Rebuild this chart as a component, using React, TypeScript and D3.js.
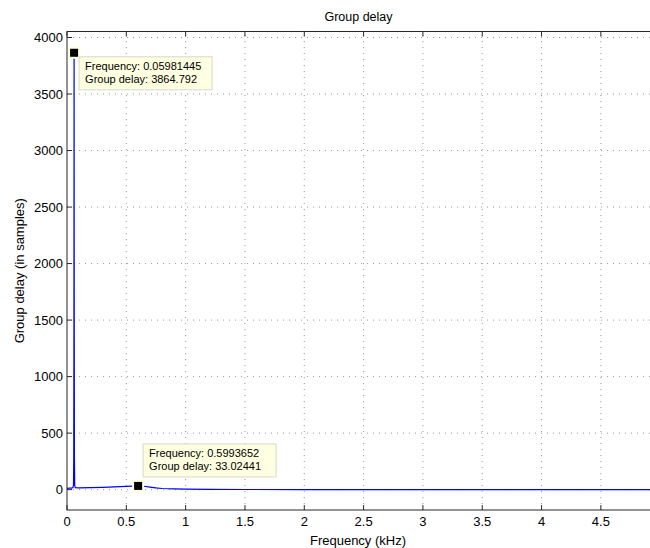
import React, { useEffect, useRef } from "react";
import * as d3 from "d3";

// frequency (kHz) and group delay (samples)
const freqs = [
  0, 0.02, 0.04, 0.05, 0.055, 0.057, 0.0585, 0.05981445, 0.061, 0.0625, 0.065, 0.07,
  0.1, 0.2, 0.3, 0.4, 0.5, 0.55, 0.5993652, 0.65, 0.7, 0.75, 0.8, 0.9, 1.0, 1.2, 1.5,
  2.0, 2.5, 3.0, 3.5, 4.0, 4.5, 4.92,
];
const delays = [
  12, 13, 14, 18, 40, 300, 1500, 3864.792, 1500, 300, 40, 17,
  16, 18, 21, 25, 29, 31.5, 33.02441, 30, 22, 15, 10, 6, 4, 2.5, 1.5,
  1, 0.7, 0.5, 0.4, 0.3, 0.2, 0.2,
];
const xTicks = [0, 0.5, 1, 1.5, 2, 2.5, 3, 3.5, 4, 4.5];
const yTicks = [0, 500, 1000, 1500, 2000, 2500, 3000, 3500, 4000];
const tips = [
  { f: 0.05981445, g: 3864.792, lines: ["Frequency: 0.05981445", "Group delay: 3864.792"], dx: 5, dy: 4 },
  { f: 0.5993652, g: 33.02441, lines: ["Frequency: 0.5993652", "Group delay: 33.02441"], dx: 5, dy: -42 },
];

const W = 650;
const H = 548;
const M = { left: 67, right: 0, top: 31.5, bottom: 38 };
const FONT = "'Liberation Sans', Arial, sans-serif";

export default function App() {
  const ref = useRef<SVGSVGElement>(null);

  useEffect(() => {
    const svg = d3.select(ref.current);
    svg.selectAll("*").remove();

    const x = d3.scaleLinear().domain([0, 4.914]).range([M.left, W - M.right]);
    const y = d3.scaleLinear().domain([-180, 4053]).range([H - M.bottom, M.top]);
    const x0 = M.left, x1 = W - M.right, y0 = H - M.bottom, y1 = M.top;

    svg.append("rect").attr("width", W).attr("height", H).attr("fill", "#fff");

    // dotted grid
    const grid = svg.append("g").attr("stroke", "#8c8c8c").attr("stroke-width", 0.9).attr("stroke-dasharray", "1,5");
    xTicks.forEach((t) => {
      if (t === 0) return;
      grid.append("line").attr("x1", x(t)).attr("x2", x(t)).attr("y1", y0).attr("y2", y1);
    });
    yTicks.forEach((t) => {
      grid.append("line").attr("x1", x0).attr("x2", x1).attr("y1", y(t)).attr("y2", y(t));
    });

    // curve
    const line = d3.line<number>().x((d, i) => x(freqs[i])).y((d) => y(d));
    svg.append("path")
      .datum(delays)
      .attr("d", line)
      .attr("fill", "none")
      .attr("stroke", "#0000ff")
      .attr("stroke-width", 1.2);

    // box and ticks
    const ax = svg.append("g").attr("stroke", "#262626").attr("stroke-width", 1);
    ax.append("rect").attr("x", x0).attr("y", y1).attr("width", x1 - x0 + 2).attr("height", y0 - y1).attr("fill", "none");
    xTicks.forEach((t) => {
      ax.append("line").attr("x1", x(t)).attr("x2", x(t)).attr("y1", y0).attr("y2", y0 - 5);
      ax.append("line").attr("x1", x(t)).attr("x2", x(t)).attr("y1", y1).attr("y2", y1 + 5);
    });
    yTicks.forEach((t) => {
      ax.append("line").attr("x1", x0).attr("x2", x0 + 5).attr("y1", y(t)).attr("y2", y(t));
    });

    const txt = svg.append("g").attr("font-family", FONT).attr("fill", "#000");
    xTicks.forEach((t) => {
      txt.append("text").attr("x", x(t)).attr("y", y0 + 16).attr("text-anchor", "middle")
        .attr("font-size", 13).text(String(t));
    });
    yTicks.forEach((t) => {
      txt.append("text").attr("x", x0 - 4).attr("y", y(t) + 4.5).attr("text-anchor", "end")
        .attr("font-size", 13).text(String(t));
    });
    txt.append("text").attr("x", (x0 + x1) / 2).attr("y", 21).attr("text-anchor", "middle")
      .attr("font-size", 12.5).text("Group delay");
    txt.append("text").attr("x", (x0 + x1) / 2 - 0.5).attr("y", 545).attr("text-anchor", "middle")
      .attr("font-size", 13).text("Frequency (kHz)");
    txt.append("text")
      .attr("transform", `translate(24,${(y0 + y1) / 2}) rotate(-90)`)
      .attr("text-anchor", "middle").attr("font-size", 13).text("Group delay (in samples)");

    // data tips
    tips.forEach((tp) => {
      const px = x(tp.f), py = y(tp.g);
      const g = svg.append("g");
      const bx = px + tp.dx, by = py + tp.dy;
      const bw = tp.lines[0].length > 21 ? 126 : 133;
      g.append("rect").attr("x", px - 6).attr("y", py - 6).attr("width", 12).attr("height", 12)
        .attr("fill", "#ffffe1");
      g.append("rect").attr("x", bx).attr("y", by).attr("width", bw).attr("height", 33)
        .attr("fill", "#ffffe1").attr("stroke", "#d8d8c8").attr("stroke-width", 1);
      tp.lines.forEach((l, i) => {
        g.append("text").attr("x", bx + 6).attr("y", by + 13.5 + i * 12.5)
          .attr("font-family", FONT).attr("font-size", 11).attr("fill", "#000").text(l);
      });
      g.append("rect").attr("x", px - 4).attr("y", py - 4).attr("width", 8).attr("height", 8)
        .attr("fill", "#000");
    });
  }, []);

  return (
    <svg ref={ref} width={W} height={H} style={{ display: "block", position: "absolute", left: 0, top: 0 }} />
  );
}
